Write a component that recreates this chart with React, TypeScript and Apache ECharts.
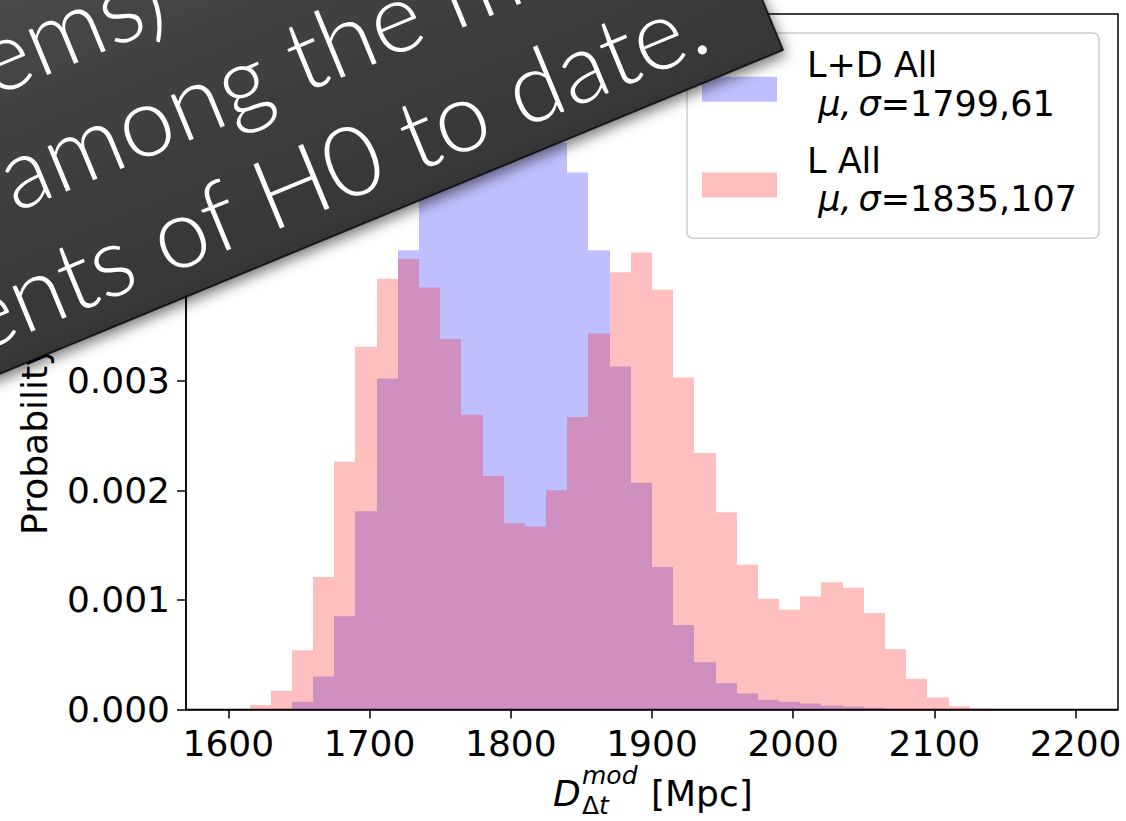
import React, { useEffect, useRef } from "react";
import * as echarts from "echarts";

// ---------- data ----------
const binEdges = [
  1600, 1615, 1630, 1645, 1660, 1675, 1690, 1705, 1720, 1735, 1750, 1765, 1780, 1795,
  1810, 1825, 1840, 1855, 1870, 1885, 1900, 1915, 1930, 1945, 1960, 1975, 1990, 2005,
  2020, 2035, 2050, 2065, 2080, 2095, 2110, 2125, 2140, 2155, 2170, 2185, 2200,
];

// L+D All (blue) probability density per bin
const ldAllDensity = [
  0, 0, 0, 0.00007, 0.0003, 0.00085, 0.00181, 0.00302, 0.00419, 0.005,
  0.0055, 0.0058, 0.00604, 0.0059, 0.0055, 0.00517, 0.0049, 0.00419, 0.00313, 0.00207,
  0.0013, 0.00077, 0.00043, 0.00024, 0.000145, 0.00009, 0.00007, 0.000054, 0.000036, 0.000025,
  0.000015, 0.000007, 0.000004, 0, 0, 0, 0, 0, 0, 0,
];

// L All (red) probability density per bin
const lAllDensity = [
  0, 0.00004, 0.00017, 0.00054, 0.00121, 0.00226, 0.00331, 0.00393, 0.00411, 0.00385,
  0.00338, 0.00269, 0.00213, 0.0017, 0.00167, 0.002, 0.00267, 0.00343, 0.00399, 0.00417,
  0.00383, 0.00303, 0.00234, 0.0018, 0.00132, 0.00101, 0.00091, 0.00103, 0.00116, 0.00111,
  0.00088, 0.00055, 0.00028, 0.00011, 0.00003, 0.00001, 0, 0, 0, 0,
];

const xTickValues = [1600, 1700, 1800, 1900, 2000, 2100, 2200];
const yTickValues = [0, 0.001, 0.002, 0.003, 0.004, 0.005, 0.006];
const seriesNames = ["L+D All", "L All"];
const seriesStats = ["1799,61", "1835,107"];
const bannerLines = ["(lensed systems)", "among the most", "measurements of H0 to date."];
const yAxisTitle = "Probability density";

const X_MIN = 1570;
const X_MAX = 2230;
const Y_MIN = 0;
const Y_MAX = 0.006346;

const TICK_FONT = "'DejaVu Sans', sans-serif";
const BANNER_FONT = "Lato, Roboto, 'Open Sans', sans-serif";
const BANNER_SIZE = 98;
const THETA = Math.atan(0.413);

function histSeries(name: string, values: number[], color: string) {
  return {
    type: "custom",
    name,
    clip: true,
    encode: { x: [0, 1], y: 2 },
    data: values.map((v, i) => [binEdges[i], binEdges[i + 1], v]),
    renderItem: (_params: any, api: any) => {
      const lo = api.coord([api.value(0), api.value(2)]);
      const hi = api.coord([api.value(1), 0]);
      const x0 = Math.round(lo[0]);
      const x1 = Math.round(hi[0]);
      return {
        type: "rect",
        shape: { x: x0, y: lo[1], width: x1 - x0, height: hi[1] - lo[1] },
        style: { fill: color },
      };
    },
  };
}

export default function App() {
  const ref = useRef<HTMLDivElement>(null);

  useEffect(() => {
    if (!ref.current) return;
    const chart = echarts.init(ref.current, null, { renderer: "svg" });

    const bannerGradient = new echarts.graphic.LinearGradient(0, 0, 0, 1, [
      { offset: 0, color: "#5e5e5e" },
      { offset: 0.5, color: "#4a4a4a" },
      { offset: 1, color: "#363636" },
    ]);

    const bannerText = (text: string, x: number, y: number, align: string) => ({
      type: "text",
      z: 201,
      x,
      y,
      style: {
        text,
        fontSize: BANNER_SIZE,
        fontFamily: BANNER_FONT,
        fontWeight: 300,
        fill: "#ffffff",
        align,
        verticalAlign: "middle",
      },
    });

    const option: any = {
      animation: false,
      backgroundColor: "#ffffff",
      grid: {
        left: 186,
        right: 8,
        top: 14,
        bottom: 111.5,
        show: true,
        borderColor: "#000",
        borderWidth: 1.5,
        backgroundColor: "transparent",
      },
      xAxis: {
        type: "value",
        min: X_MIN,
        max: X_MAX,
        axisLine: { show: true, onZero: false, lineStyle: { color: "#000", width: 1.5 } },
        axisTick: {
          show: true,
          customValues: xTickValues,
          length: 9,
          inside: false,
          lineStyle: { color: "#000", width: 1.5 },
        },
        axisLabel: {
          customValues: xTickValues,
          fontSize: 36,
          fontFamily: TICK_FONT,
          color: "#000",
          margin: 16,
          formatter: (v: number) => String(v),
        },
        splitLine: { show: false },
      },
      yAxis: {
        type: "value",
        min: Y_MIN,
        max: Y_MAX,
        axisLine: { show: true, lineStyle: { color: "#000", width: 1.5 } },
        axisTick: {
          show: true,
          customValues: yTickValues,
          length: 9,
          inside: false,
          lineStyle: { color: "#000", width: 1.5 },
        },
        axisLabel: {
          customValues: yTickValues,
          fontSize: 36,
          fontFamily: TICK_FONT,
          color: "#000",
          margin: 16,
          formatter: (v: number) => v.toFixed(3),
        },
        splitLine: { show: false },
      },
      legend: {
        orient: "vertical",
        left: 687,
        top: 33,
        icon: "rect",
        itemWidth: 75,
        itemHeight: 25,
        itemGap: 22,
        padding: [14.5, 22, 21.4, 15],
        backgroundColor: "rgba(255,255,255,0.8)",
        borderColor: "#cccccc",
        borderWidth: 1.5,
        borderRadius: 6,
        selectedMode: false,
        data: [
          { name: seriesNames[0], itemStyle: { color: "#bfbfff" } },
          { name: seriesNames[1], itemStyle: { color: "#ffbfbf" } },
        ],
        formatter: (name: string) => {
          const idx = seriesNames.indexOf(name);
          return `{n|${name}}\n{m| μ,\u2009σ}{n|=${seriesStats[idx]}}`;
        },
        textStyle: {
          padding: [0, 0, 10, 25],
          rich: {
            n: { fontSize: 35, fontFamily: TICK_FONT, color: "#000", lineHeight: 38.7 },
            m: { fontSize: 35, fontFamily: TICK_FONT, fontStyle: "italic", color: "#000", lineHeight: 38.7 },
          },
        },
      },
      series: [
        histSeries(seriesNames[0], ldAllDensity, "rgba(0,0,255,0.25)"),
        histSeries(seriesNames[1], lAllDensity, "rgba(255,0,0,0.25)"),
      ],
      graphic: [
        // y-axis title
        {
          type: "text",
          x: 34,
          y: 368,
          rotation: Math.PI / 2,
          z: 10,
          style: {
            text: yAxisTitle,
            fontSize: 36,
            fontFamily: TICK_FONT,
            fill: "#000",
            align: "center",
            verticalAlign: "middle",
          },
        },
        // x-axis title: D_{Δt}^{mod} [Mpc]
        {
          type: "group",
          x: 553,
          y: 0,
          z: 10,
          children: [
            {
              type: "text",
              x: 0,
              y: 793,
              style: { text: "D", fontSize: 36, fontFamily: TICK_FONT, fontStyle: "italic", fill: "#000", align: "left", verticalAlign: "middle" },
            },
            {
              type: "text",
              x: 29,
              y: 775,
              style: { text: "mod", fontSize: 25, fontFamily: TICK_FONT, fontStyle: "italic", fill: "#000", align: "left", verticalAlign: "middle" },
            },
            {
              type: "text",
              x: 29,
              y: 805,
              style: {
                text: "{u|Δ}{i|t}",
                fill: "#000",
                align: "left",
                verticalAlign: "middle",
                rich: {
                  u: { fontSize: 25, fontFamily: TICK_FONT, fill: "#000" },
                  i: { fontSize: 25, fontFamily: TICK_FONT, fontStyle: "italic", fill: "#000" },
                },
              },
            },
            {
              type: "text",
              x: 98,
              y: 793,
              style: { text: "[Mpc]", fontSize: 36, fontFamily: TICK_FONT, fill: "#000", align: "left", verticalAlign: "middle" },
            },
          ],
        },
        // dark rotated banner overlay
        {
          type: "group",
          x: 783,
          y: 50,
          rotation: THETA,
          z: 200,
          children: [
            {
              type: "rect",
              z: 200,
              shape: { x: -1700, y: -760, width: 1700, height: 760 },
              style: {
                fill: bannerGradient,
                stroke: "#000",
                lineWidth: 1.5,
                shadowBlur: 14,
                shadowColor: "rgba(0,0,0,0.55)",
                shadowOffsetY: 5,
              },
            },
            bannerText(bannerLines[0], -554, -296, "right"),
            bannerText(bannerLines[1], -772, -181, "left"),
            bannerText(bannerLines[2], -63, -65, "right"),
          ],
        },
      ],
    };

    chart.setOption(option);
    return () => chart.dispose();
  }, []);

  return (
    <div
      ref={ref}
      style={{ position: "fixed", left: 0, top: 0, width: 1126, height: 821, background: "#fff" }}
    />
  );
}
